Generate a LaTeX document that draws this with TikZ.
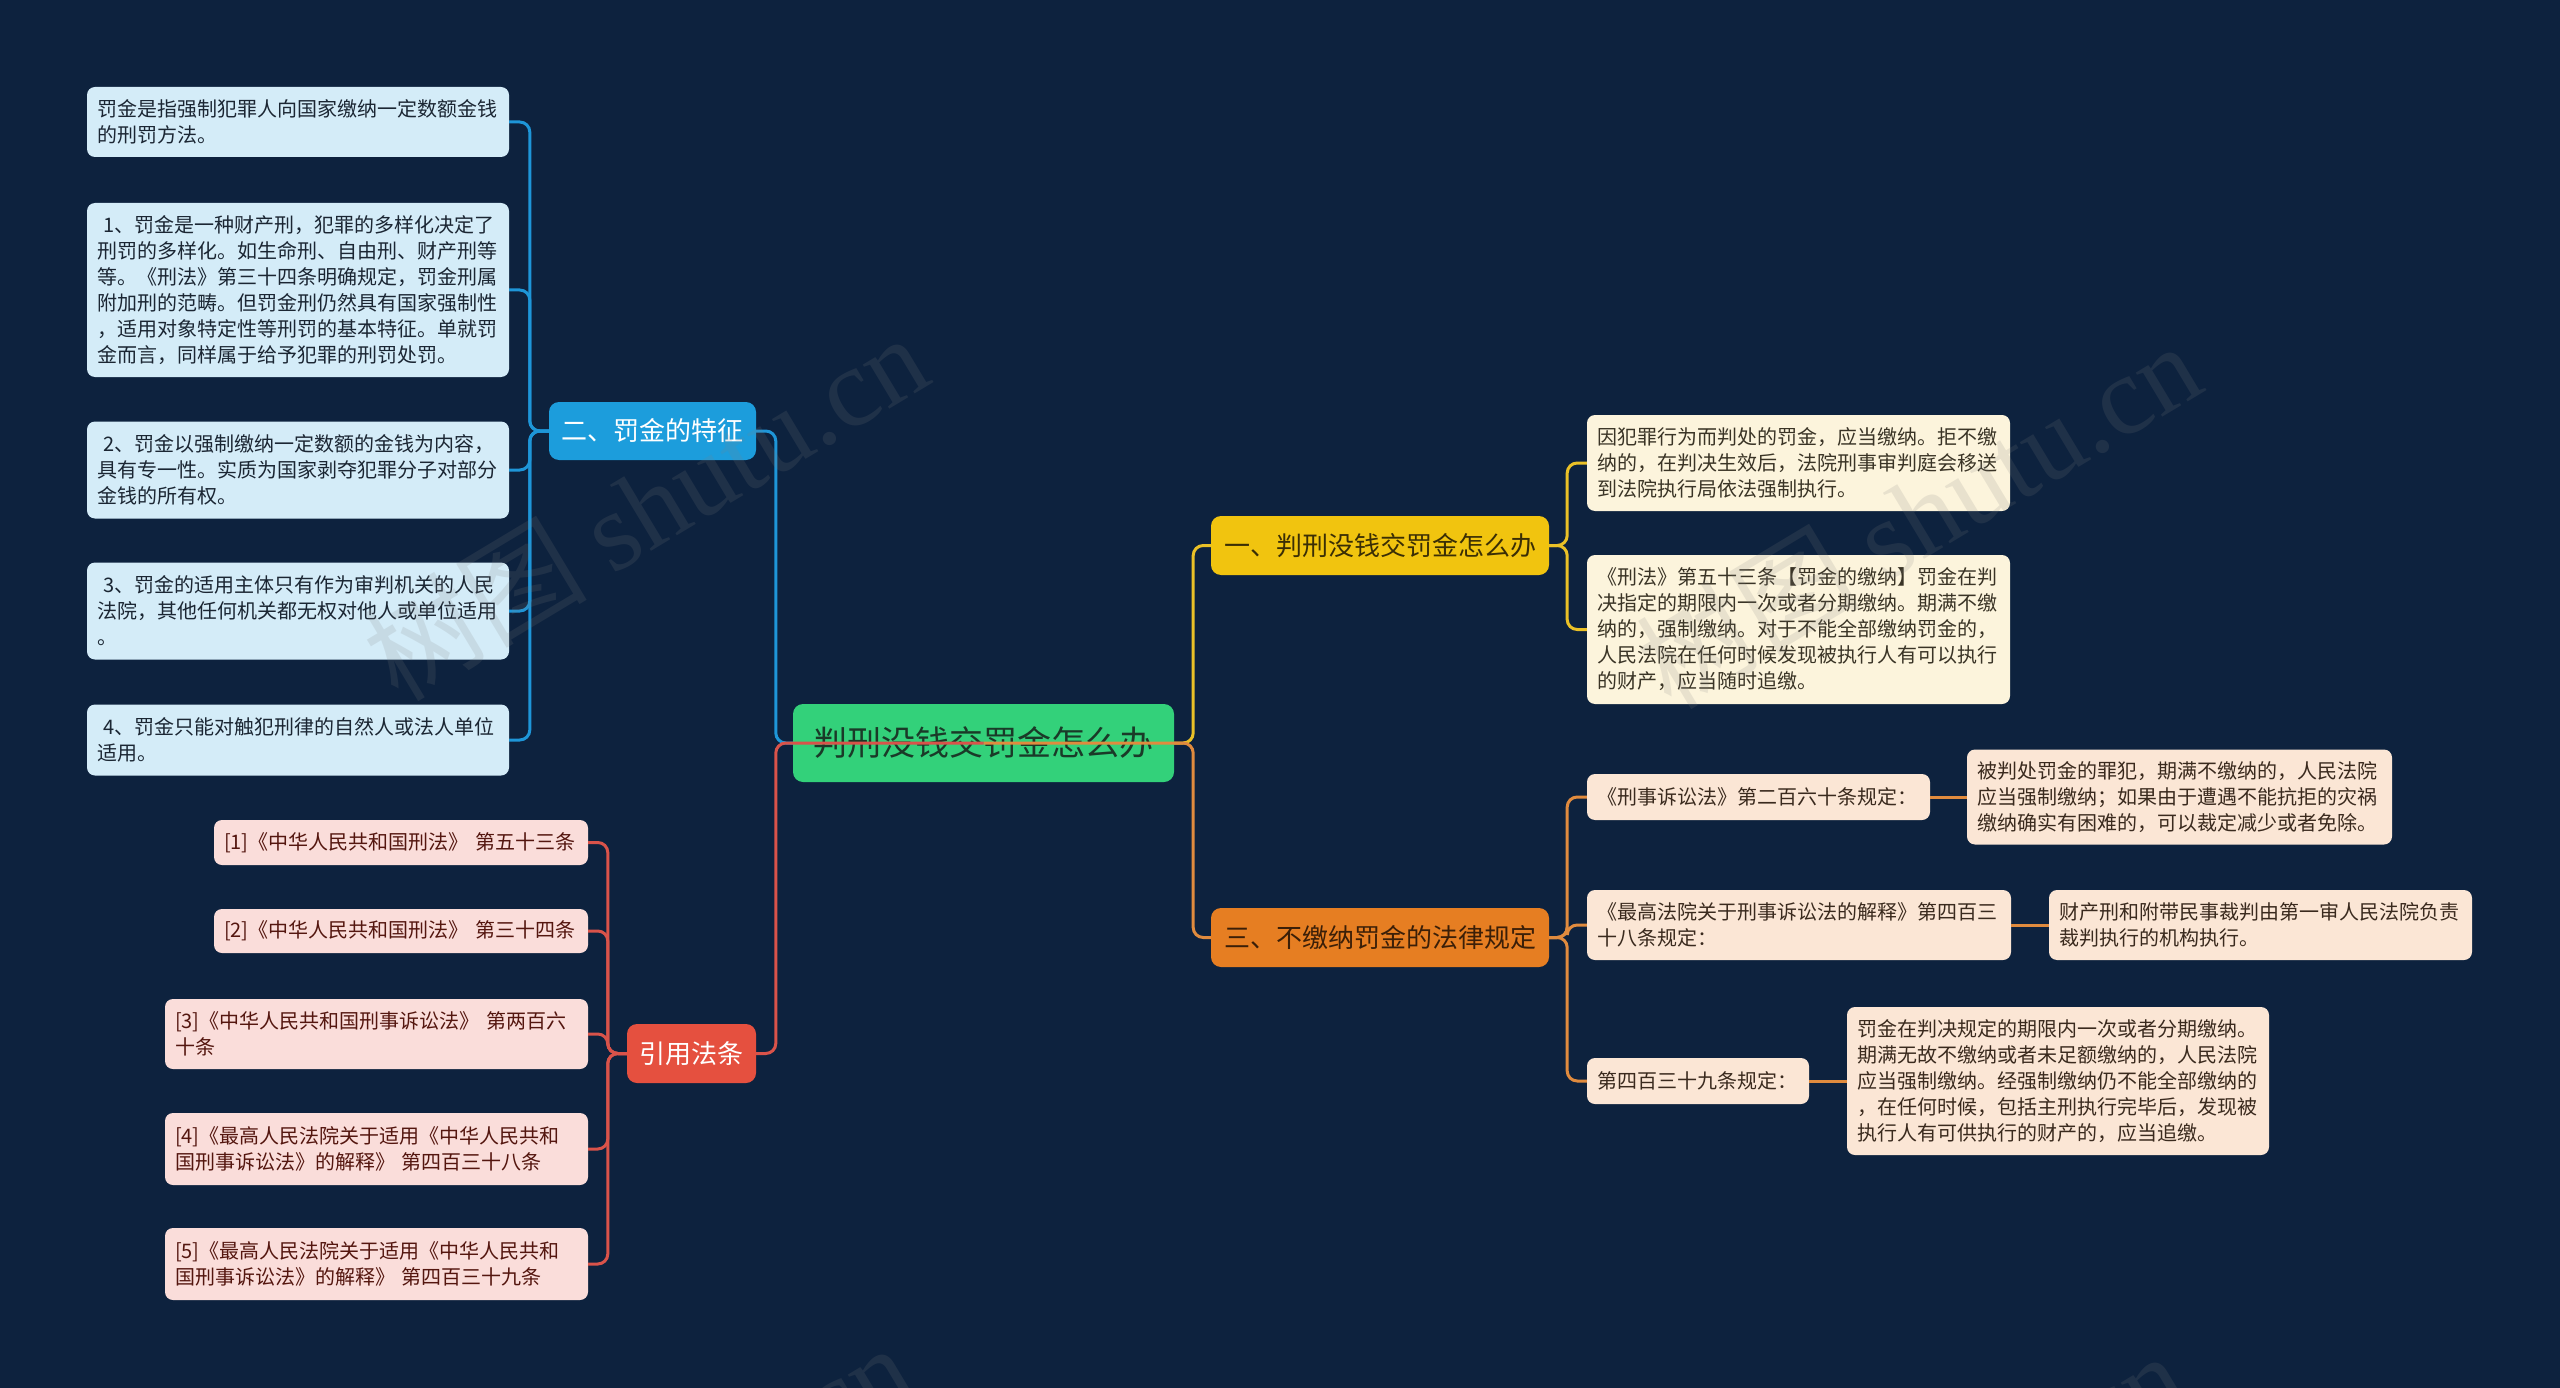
\documentclass[tikz,border=0pt]{standalone}
\usepackage{fontspec}
\setmainfont{Noto Sans CJK SC}
\newfontfamily\wmserif{Liberation Serif}
\definecolor{bg}{HTML}{0D223E}
\definecolor{blueB}{HTML}{1C9DDC}
\definecolor{blueL}{HTML}{D4ECF8}
\definecolor{blueLine}{HTML}{1E96D8}
\definecolor{blueTxt}{HTML}{1B2633}
\definecolor{rootG}{HTML}{33D17A}
\definecolor{rootTxt}{HTML}{1A3A28}
\definecolor{redB}{HTML}{E5503F}
\definecolor{redL}{HTML}{FADDDA}
\definecolor{redLine}{HTML}{D9534A}
\definecolor{redTxt}{HTML}{54160F}
\definecolor{yelB}{HTML}{F1C40F}
\definecolor{yelL}{HTML}{FCF4DC}
\definecolor{yelLine}{HTML}{EAC127}
\definecolor{yelTxt}{HTML}{3A3426}
\definecolor{yelBTxt}{HTML}{3A2E05}
\definecolor{oraB}{HTML}{E67E22}
\definecolor{oraL}{HTML}{FBE6D5}
\definecolor{oraLine}{HTML}{E08B3E}
\definecolor{oraTxt}{HTML}{3A2A1E}
\definecolor{oraBTxt}{HTML}{3B1F08}
\begin{document}
\begin{tikzpicture}[x=1pt,y=-1pt,
  leaf/.style={rounded corners=8pt, inner xsep=10pt, inner ysep=4pt, align=left,
    font=\fontsize{20}{26}\selectfont, anchor=center},
  bleaf/.style={leaf, fill=blueL, text=blueTxt},
  rleaf/.style={leaf, fill=redL, text=redTxt},
  yleaf/.style={leaf, fill=yelL, text=yelTxt},
  oleaf/.style={leaf, fill=oraL, text=oraTxt},
  branch/.style={rounded corners=10pt, inner sep=0pt, anchor=center,
    font=\fontsize{26}{30}\selectfont},
  conn/.style={line width=3pt, rounded corners=10pt},
  wm/.style={text=gray, text opacity=0.16, font=\fontsize{112}{112}\selectfont, anchor=center}
]
\useasboundingbox (0,0) rectangle (2560,1388);
\fill[bg] (0,0) rectangle (2560,1388);

% ---- nodes ----
\node[branch, fill=rootG, text=rootTxt, minimum width=381pt, minimum height=78pt,
  font=\fontsize{34}{38}\selectfont] (root) at (983.5,743) {判刑没钱交罚金怎么办};

\node[branch, fill=blueB, text=white, minimum width=207pt, minimum height=58pt] (s2) at (652.5,431) {二、罚金的特征};
\node[branch, fill=redB, text=white, minimum width=129pt, minimum height=59pt] (yin) at (691.5,1053.5) {引用法条};
\node[branch, fill=yelB, text=yelBTxt, minimum width=338pt, minimum height=59pt] (s1) at (1380,545.5) {一、判刑没钱交罚金怎么办};
\node[branch, fill=oraB, text=oraBTxt, minimum width=338pt, minimum height=59pt] (s3) at (1380,937.5) {三、不缴纳罚金的法律规定};

% blue leaves
\node[bleaf, text width=402pt, minimum height=70pt] (b1) at (298,122)
 {罚金是指强制犯罪人向国家缴纳一定数额金钱\\的刑罚方法。};
\node[bleaf, text width=402pt, minimum height=174pt] (b2) at (298,290)
 {\ 1、罚金是一种财产刑，犯罪的多样化决定了\\刑罚的多样化。如生命刑、自由刑、财产刑等\\等。《刑法》第三十四条明确规定，罚金刑属\\附加刑的范畴。但罚金刑仍然具有国家强制性\\，适用对象特定性等刑罚的基本特征。单就罚\\金而言，同样属于给予犯罪的刑罚处罚。};
\node[bleaf, text width=402pt, minimum height=97pt] (b3) at (298,470)
 {\ 2、罚金以强制缴纳一定数额的金钱为内容，\\具有专一性。实质为国家剥夺犯罪分子对部分\\金钱的所有权。};
\node[bleaf, text width=402pt, minimum height=97pt] (b4) at (298,611)
 {\ 3、罚金的适用主体只有作为审判机关的人民\\法院，其他任何机关都无权对他人或单位适用\\。};
\node[bleaf, text width=402pt, minimum height=71pt] (b5) at (298,740)
 {\ 4、罚金只能对触犯刑律的自然人或法人单位\\适用。};

% red leaves
\node[rleaf, text width=354pt, minimum height=45pt] (r1) at (401,842.5)
 {[1]《中华人民共和国刑法》~第五十三条};
\node[rleaf, text width=354pt, minimum height=44pt] (r2) at (401,931)
 {[2]《中华人民共和国刑法》~第三十四条};
\node[rleaf, text width=403pt, minimum height=70pt] (r3) at (376.5,1034)
 {[3]《中华人民共和国刑事诉讼法》~第两百六\\十条};
\node[rleaf, text width=403pt, minimum height=72pt] (r4) at (376.5,1149)
 {[4]《最高人民法院关于适用《中华人民共和\\国刑事诉讼法》的解释》~第四百三十八条};
\node[rleaf, text width=403pt, minimum height=72pt] (r5) at (376.5,1264)
 {[5]《最高人民法院关于适用《中华人民共和\\国刑事诉讼法》的解释》~第四百三十九条};

% yellow leaves
\node[yleaf, text width=403pt, minimum height=96pt] (y1) at (1798.5,463)
 {因犯罪行为而判处的罚金，应当缴纳。拒不缴\\纳的，在判决生效后，法院刑事审判庭会移送\\到法院执行局依法强制执行。};
\node[yleaf, text width=403pt, minimum height=149pt] (y2) at (1798.5,629.5)
 {《刑法》第五十三条【罚金的缴纳】罚金在判\\决指定的期限内一次或者分期缴纳。期满不缴\\纳的，强制缴纳。对于不能全部缴纳罚金的，\\人民法院在任何时候发现被执行人有可以执行\\的财产，应当随时追缴。};

% orange leaves
\node[oleaf, text width=323pt, minimum height=46pt] (oA) at (1758.5,797)
 {《刑事诉讼法》第二百六十条规定：};
\node[oleaf, text width=405pt, minimum height=95pt] (oA2) at (2179.5,797)
 {被判处罚金的罪犯，期满不缴纳的，人民法院\\应当强制缴纳；如果由于遭遇不能抗拒的灾祸\\缴纳确实有困难的，可以裁定减少或者免除。};
\node[oleaf, text width=404pt, minimum height=70pt] (oB) at (1799,925)
 {《最高法院关于刑事诉讼法的解释》第四百三\\十八条规定：};
\node[oleaf, text width=403pt, minimum height=70pt] (oB2) at (2260.5,925)
 {财产刑和附带民事裁判由第一审人民法院负责\\裁判执行的机构执行。};
\node[oleaf, text width=202pt, minimum height=46pt] (oC) at (1698,1081)
 {第四百三十九条规定：};
\node[oleaf, text width=402pt, minimum height=148pt] (oC2) at (2058,1081)
 {罚金在判决规定的期限内一次或者分期缴纳。\\期满无故不缴纳或者未足额缴纳的，人民法院\\应当强制缴纳。经强制缴纳仍不能全部缴纳的\\，在任何时候，包括主刑执行完毕后，发现被\\执行人有可供执行的财产的，应当追缴。};

% ---- connectors ----
\foreach \n in {b1,b2,b3,b4,b5}
  \draw[conn, blueLine] (s2.west) -- ([xshift=-19pt]s2.west) |- (\n.east);
\draw[conn, blueLine] (root.west) -- ([xshift=-17pt]root.west) |- (s2.east);
\draw[conn, yelLine] (root.east) -- ([xshift=19pt]root.east) |- (s1.west);
\foreach \n in {y1,y2}
  \draw[conn, yelLine] (s1.east) -- ([xshift=18pt]s1.east) |- (\n.west);
\foreach \n in {oA,oB,oC}
  \draw[conn, oraLine] (s3.east) -- ([xshift=18pt]s3.east) |- (\n.west);
\draw[conn, oraLine] (oA.east) -- (oA2.west);
\draw[conn, oraLine] (oB.east) -- (oB2.west);
\draw[conn, oraLine] (oC.east) -- (oC2.west);
\foreach \n in {r1,r2,r3,r4,r5}
  \draw[conn, redLine] (yin.west) -- ([xshift=-19pt]yin.west) |- (\n.east);
\draw[conn, oraLine] (root.center) -- ([xshift=19pt]root.east) |- (s3.west);
\draw[conn, redLine] (root.center) -- ([xshift=-17pt]root.west) |- (yin.east);

% ---- watermarks ----
\node[wm, rotate=31] (wm1) at (645,506) {树图 {\wmserif shutu.cn}};
\node[wm, rotate=31] (wm2) at (1918,514) {树图 {\wmserif shutu.cn}};
\node[wm, rotate=31] (wm3) at (630,1516) {树图 {\wmserif shutu.cn}};
\node[wm, rotate=31] (wm4) at (1903,1524) {树图 {\wmserif shutu.cn}};
\end{tikzpicture}
\end{document}
